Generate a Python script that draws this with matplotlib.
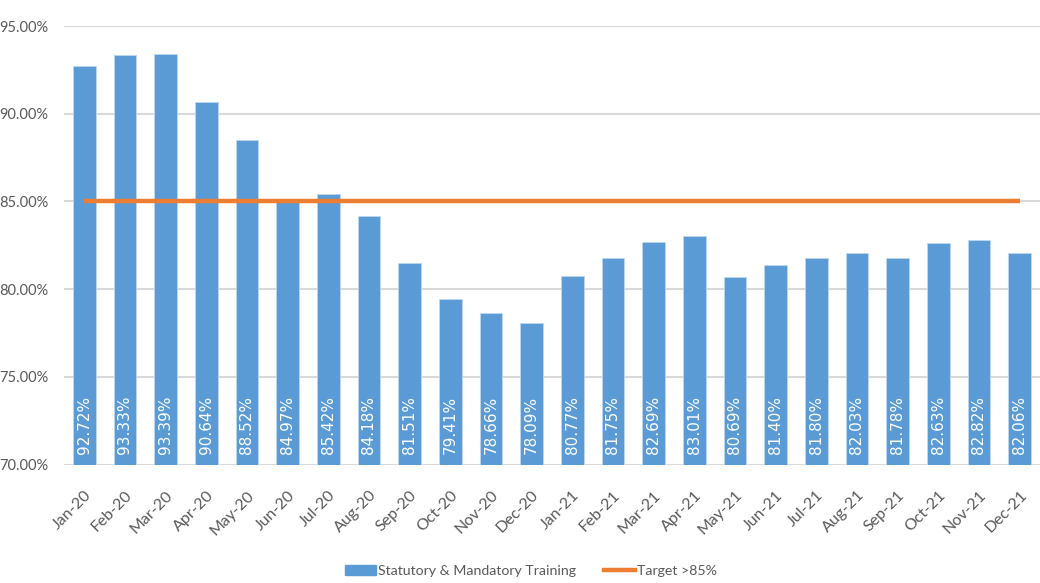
import matplotlib
matplotlib.use("Agg")
import matplotlib.pyplot as plt
from matplotlib.ticker import PercentFormatter, FixedLocator
from matplotlib.patches import Patch
from matplotlib.lines import Line2D

months = ["Jan-20", "Feb-20", "Mar-20", "Apr-20", "May-20", "Jun-20",
          "Jul-20", "Aug-20", "Sep-20", "Oct-20", "Nov-20", "Dec-20",
          "Jan-21", "Feb-21", "Mar-21", "Apr-21", "May-21", "Jun-21",
          "Jul-21", "Aug-21", "Sep-21", "Oct-21", "Nov-21", "Dec-21"]
training = [92.72, 93.33, 93.39, 90.64, 88.52, 84.97,
            85.42, 84.18, 81.51, 79.41, 78.66, 78.09,
            80.77, 81.75, 82.69, 83.01, 80.69, 81.40,
            81.80, 82.03, 81.78, 82.63, 82.82, 82.06]
target = [85.0] * len(months)
yticks = [70, 75, 80, 85, 90, 95]

bar_color = "#5B9BD5"
line_color = "#ED7D31"
grid_color = "#D9D9D9"
text_color = "#595959"

label_font = ["Lato", "DejaVu Sans"]

fig = plt.figure(figsize=(10.40, 5.83), dpi=100)
ax = fig.add_axes([64 / 1040, 1 - 464.5 / 583, 1 - 64 / 1040, (464.5 - 26) / 583])

x = list(range(len(months)))
ax.bar(x, training, width=0.56, color=bar_color, edgecolor="#BDD7EE",
       linewidth=0.6, zorder=2)
ax.plot(x, target, color=line_color, linewidth=3.2, solid_capstyle="butt",
        zorder=3)

for xi, v in zip(x, training):
    ax.text(xi, 70.6, f"{v:.2f}%", rotation=90, ha="center", va="bottom",
            color="white", fontsize=11, family="DejaVu Sans", zorder=4)

ax.set_xlim(-0.5, len(months) - 0.5)
ax.set_ylim(70, 95)
ax.yaxis.set_major_locator(FixedLocator(yticks))
ax.yaxis.set_major_formatter(PercentFormatter(decimals=2))
ax.grid(axis="y", color=grid_color, linewidth=1.5, zorder=0)
ax.set_axisbelow(True)
for s in ax.spines.values():
    s.set_visible(False)
ax.tick_params(length=0)
ax.tick_params(axis="y", pad=11)
ax.tick_params(axis="x", pad=17)

ax.set_xticks(x)
ax.set_xticklabels(months, rotation=45, ha="right", rotation_mode="anchor")
for lab in ax.get_xticklabels():
    lab.set_family(label_font)
    lab.set_fontsize(11.5)
    lab.set_color(text_color)
for lab in ax.get_yticklabels():
    lab.set_family(label_font)
    lab.set_fontsize(10.5)
    lab.set_color(text_color)

handles = [Patch(facecolor=bar_color, edgecolor=bar_color),
           Line2D([0], [0], color=line_color, linewidth=3.2)]
leg = fig.legend(handles, ["Statutory & Mandatory Training", "Target >85%"],
                 loc="center", bbox_to_anchor=(531 / 1040, 1 - 571 / 583),
                 ncol=2, frameon=False, handlelength=2.2, handleheight=0.65,
                 columnspacing=2.0, handletextpad=0.15,
                 prop={"family": label_font, "size": 10.2})
for t in leg.get_texts():
    t.set_color(text_color)

fig.savefig("out.png", dpi=100)
